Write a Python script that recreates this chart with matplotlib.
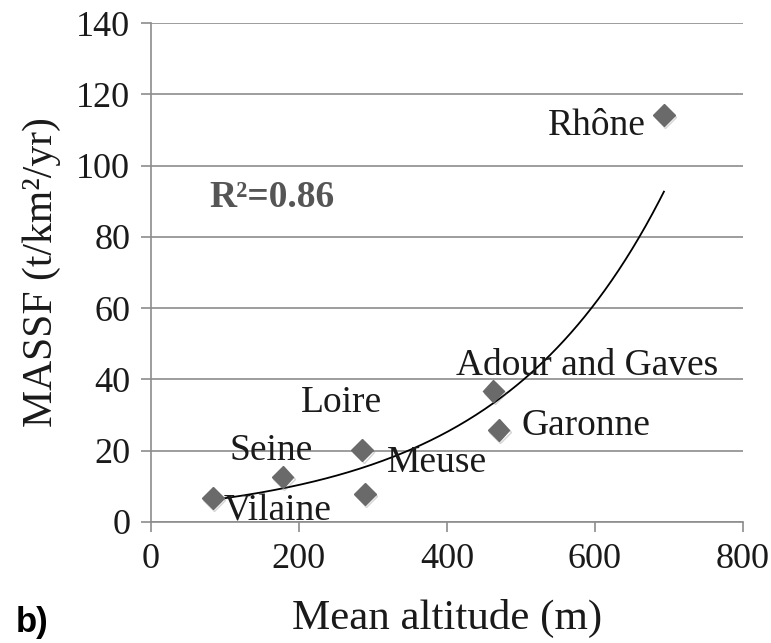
import numpy as np
import matplotlib
matplotlib.use('Agg')
import matplotlib.pyplot as plt
import matplotlib.patheffects as pe

# rivers: mean altitude (m) vs MASSF (t/km2/yr)
rivers = ['Vilaine', 'Seine', 'Loire', 'Meuse', 'Adour and Gaves', 'Garonne', 'Rhône']
altitude = [83.5, 178, 285.5, 289.5, 463, 470, 693.5]
massf = [6.7, 12.6, 20.2, 7.9, 36.8, 25.8, 114.2]

# label offsets (points) and horizontal alignment for each river name
offsets = [(8, -16), (-38, 12), (-44, 27), (16, 16), (-27, 11.5), (16.5, -3.5), (-13, -14.5)]
aligns = ['left', 'left', 'left', 'left', 'left', 'left', 'right']

grey = '#8c8c8c'
plt.rcParams['font.family'] = ['Liberation Serif', 'DejaVu Serif']

fig = plt.figure(figsize=(7.71, 6.43), dpi=100)
ax = fig.add_axes([0.1958, 0.1882, 0.7675, 0.776])

# exponential trendline fitted in log space
b, lna = np.polyfit(altitude, np.log(massf), 1)
xs = np.linspace(min(altitude), max(altitude), 200)
ax.plot(xs, np.exp(lna) * np.exp(b * xs), color='black', lw=1.3, zorder=3)

ax.plot(altitude, massf, 'D', ms=11, color='#6a6a6a', mec='#6a6a6a', zorder=4,
        path_effects=[pe.SimpleLineShadow(offset=(1, -1.5), alpha=0.25, shadow_color='#555555'),
                      pe.Normal()])

for name, x, y, off, ha in zip(rivers, altitude, massf, offsets, aligns):
    ax.annotate(name, (x, y), xytext=off, textcoords='offset points',
                ha=ha, va='baseline', fontsize=27, color='#1a1a1a', zorder=5)

ax.text(0.098, 0.651, 'R²=0.86', transform=ax.transAxes, fontsize=27, fontweight='bold',
        color='#555555', ha='left', va='center')

ax.set_xlim(0, 800)
ax.set_ylim(0, 140)
ax.set_xticks(np.arange(0, 801, 200))
ax.set_yticks(np.arange(0, 141, 20))
ax.yaxis.grid(True, color=grey, lw=1.2)
ax.set_axisbelow(True)
for s in ['top', 'right']:
    ax.spines[s].set_visible(False)
for s in ['left', 'bottom']:
    ax.spines[s].set_color(grey)
    ax.spines[s].set_linewidth(1.2)
ax.tick_params(axis='both', direction='out', length=7, width=1.2, color=grey,
               labelsize=26, labelcolor='#1a1a1a', pad=8)

ax.set_xlabel('Mean altitude (m)', fontsize=31, color='#1a1a1a', labelpad=17)
ax.set_ylabel('MASSF (t/km²/yr)', fontsize=30, color='#1a1a1a', labelpad=11)

fig.text(0.02, 0.017, 'b)', fontsize=25, fontweight='bold', family='Liberation Sans',
         ha='left', va='baseline')

fig.savefig('out.png', dpi=100)
